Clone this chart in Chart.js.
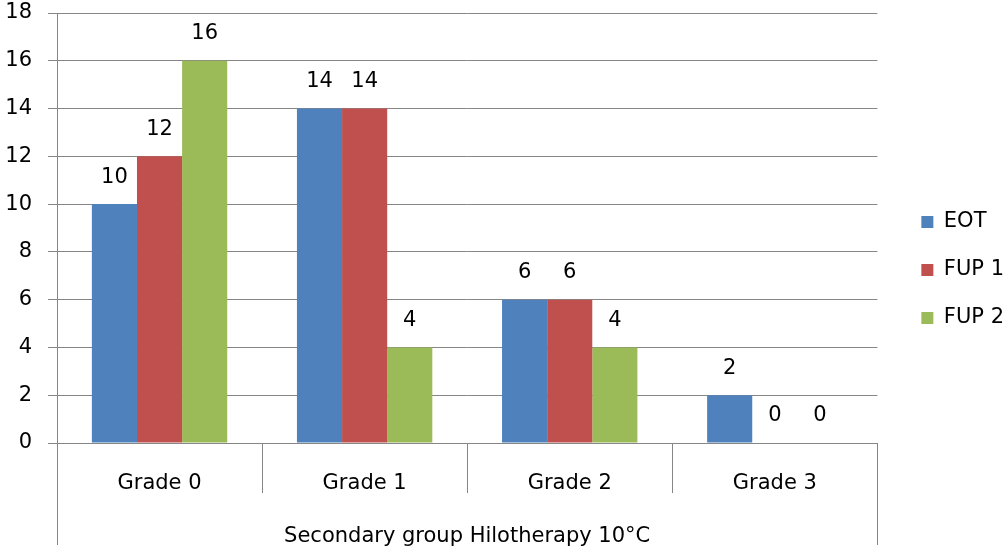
<!DOCTYPE html>
<html lang="en">
<head>
  <meta charset="UTF-8">
  <title>Secondary group Hilotherapy 10°C</title>
  <style>
    body {
      margin: 0;
      background: #fff;
    }
    #wrap {
      width: 1004px;
      height: 550px;
    }
  </style>
</head>
<body>
<div id="wrap">
  <canvas id="gradeChart" width="1004" height="550"></canvas>
</div>

<script src="https://cdn.jsdelivr.net/npm/chart.js"></script>
<script>
  // data
  const grades = ['Grade 0', 'Grade 1', 'Grade 2', 'Grade 3'];
  const eot = [10, 14, 6, 2];
  const fup1 = [12, 14, 6, 0];
  const fup2 = [16, 4, 4, 0];
  const groupTitle = 'Secondary group Hilotherapy 10°C';

  const gridGrey = '#868686';
  Chart.defaults.font.family = "'DejaVu Sans', sans-serif";
  Chart.defaults.font.size = 21;
  Chart.defaults.color = '#000';

  // numbers above the bars
  const barValueLabels = {
    id: 'barValueLabels',
    afterDatasetsDraw(chart) {
      const ctx = chart.ctx;
      ctx.save();
      ctx.font = "21px 'DejaVu Sans', sans-serif";
      ctx.fillStyle = '#000';
      ctx.textAlign = 'center';
      ctx.textBaseline = 'middle';
      chart.data.datasets.forEach((ds, i) => {
        chart.getDatasetMeta(i).data.forEach((bar, j) => {
          ctx.fillText(String(ds.data[j]), bar.x, bar.y - 27);
        });
      });
      ctx.restore();
    }
  };

  // outer frame lines of the group label + nudge the legend
  const groupFrame = {
    id: 'groupFrame',
    afterLayout(chart) {
      const lg = chart.legend;
      lg.left += 17; lg.right += 17;
      lg.top -= 5; lg.bottom -= 5;
    },
    afterDraw(chart) {
      const ctx = chart.ctx;
      const x = chart.scales.x;
      ctx.save();
      ctx.strokeStyle = gridGrey;
      ctx.lineWidth = 1;
      ctx.beginPath();
      [x.left, x.right].forEach(px => {
        const p = Math.round(px) + 0.5;
        ctx.moveTo(p, chart.chartArea.bottom);
        ctx.lineTo(p, 545);
      });
      ctx.stroke();
      ctx.restore();
    }
  };

  new Chart(document.getElementById('gradeChart'), {
    type: 'bar',
    data: {
      labels: grades,
      datasets: [
        { label: 'EOT', data: eot, backgroundColor: '#4F81BD' },
        { label: 'FUP 1', data: fup1, backgroundColor: '#C0504D' },
        { label: 'FUP 2', data: fup2, backgroundColor: '#9BBB59' }
      ]
    },
    options: {
      responsive: false,
      animation: false,
      layout: { padding: { top: 0, left: 0, right: 7, bottom: 0 } },
      datasets: {
        bar: { categoryPercentage: 0.66, barPercentage: 1.0 }
      },
      scales: {
        x: {
          grid: {
            offset: true,
            drawOnChartArea: false,
            tickLength: 50,
            color: gridGrey
          },
          border: { color: gridGrey },
          ticks: { padding: -22, maxRotation: 0 },
          title: {
            display: true,
            text: groupTitle,
            padding: { top: 0, bottom: 1 }
          },
          afterFit(scale) { scale.height = 107; }
        },
        y: {
          min: 0,
          max: 18,
          ticks: { stepSize: 2, padding: 16 },
          grid: { color: gridGrey, tickLength: 9 },
          border: { color: gridGrey },
          afterFit(scale) {
            scale.width = 57;
            scale.paddingTop = 13;
            scale.paddingBottom = 0;
          }
        }
      },
      plugins: {
        legend: {
          position: 'right',
          labels: { boxWidth: 12, boxHeight: 12, padding: 27 }
        },
        tooltip: { enabled: false }
      }
    },
    plugins: [barValueLabels, groupFrame]
  });
</script>
</body>
</html>
